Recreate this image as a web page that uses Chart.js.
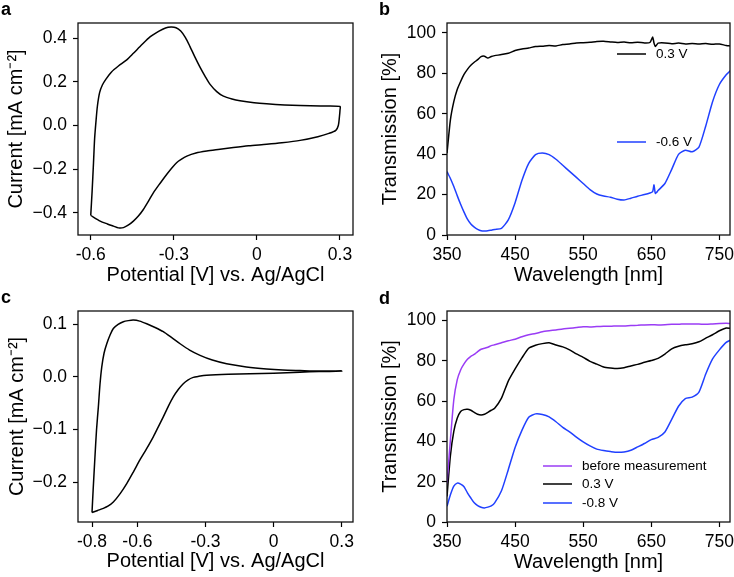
<!DOCTYPE html>
<html><head><meta charset="utf-8">
<script src="https://cdn.jsdelivr.net/npm/chart.js@4.4.0/dist/chart.umd.min.js"></script>
<style>
html,body{margin:0;padding:0;background:#fff;width:734px;height:577px;overflow:hidden}
canvas{position:absolute}
</style></head><body>
<canvas id="ca" style="left:0;top:0" width="367" height="290"></canvas>
<canvas id="cb" style="left:367px;top:0" width="367" height="290"></canvas>
<canvas id="cc" style="left:0;top:290px" width="367" height="287"></canvas>
<canvas id="cd" style="left:367px;top:290px" width="367" height="287"></canvas>
<script>
// ---------- data ----------
const cvA_potential = [-0.600,-0.595,-0.590,-0.586,-0.581,-0.576,-0.568,-0.558,-0.545,-0.525,-0.500,-0.470,-0.446,-0.415,-0.386,-0.355,-0.330,-0.310,-0.292,-0.275,-0.258,-0.242,-0.225,-0.206,-0.187,-0.169,-0.145,-0.121,-0.090,-0.061,-0.010,0.035,0.100,0.156,0.230,0.300,
  0.300,0.298,0.294,0.285,0.260,0.220,0.156,0.090,0.035,-0.030,-0.085,-0.140,-0.181,-0.220,-0.253,-0.275,-0.290,-0.308,-0.326,-0.350,-0.374,-0.392,-0.410,-0.428,-0.446,-0.465,-0.482,-0.500,-0.518,-0.540,-0.566,-0.600];
const cvA_current = [-0.411,-0.300,-0.170,-0.060,0.020,0.088,0.150,0.185,0.212,0.245,0.272,0.300,0.330,0.370,0.405,0.430,0.446,0.450,0.447,0.432,0.402,0.362,0.316,0.268,0.225,0.188,0.155,0.134,0.121,0.113,0.104,0.099,0.094,0.091,0.089,0.087,
  0.070,0.040,0.000,-0.022,-0.036,-0.051,-0.068,-0.079,-0.086,-0.093,-0.101,-0.110,-0.117,-0.126,-0.140,-0.156,-0.170,-0.195,-0.224,-0.265,-0.308,-0.347,-0.384,-0.414,-0.437,-0.456,-0.467,-0.468,-0.460,-0.450,-0.437,-0.411];

const cvC_potential = [-0.800,-0.795,-0.787,-0.780,-0.772,-0.765,-0.757,-0.747,-0.735,-0.720,-0.706,-0.685,-0.662,-0.640,-0.618,-0.590,-0.559,-0.522,-0.486,-0.450,-0.412,-0.370,-0.324,-0.270,-0.207,-0.120,-0.031,0.040,0.116,0.200,0.300,
  0.200,0.116,0.000,-0.104,-0.200,-0.295,-0.330,-0.354,-0.378,-0.398,-0.420,-0.442,-0.464,-0.486,-0.508,-0.530,-0.560,-0.589,-0.618,-0.647,-0.676,-0.706,-0.730,-0.750,-0.775,-0.800];
const cvC_current = [-0.258,-0.215,-0.152,-0.100,-0.057,-0.015,0.019,0.045,0.063,0.080,0.092,0.100,0.105,0.107,0.108,0.106,0.101,0.094,0.086,0.075,0.063,0.051,0.041,0.032,0.025,0.019,0.015,0.013,0.012,0.011,0.011,
  0.010,0.009,0.007,0.006,0.005,0.003,0.001,-0.001,-0.006,-0.013,-0.024,-0.038,-0.056,-0.076,-0.095,-0.114,-0.137,-0.158,-0.181,-0.203,-0.222,-0.238,-0.246,-0.250,-0.254,-0.258];

const specB_wavelength = [350,355,360,365,370,375,380,385,390,395,400,405,410,415,420,430,440,450,460,470,480,490,500,510,520,530,540,550,560,570,580,590,600,610,620,630,640,648,652,654,656,660,670,680,690,700,710,720,730,740,750,760,766];
const specB_T_0p3V = [40.5,57,66,72,76,79.5,82,84,85.5,86.8,88.3,88.5,87.6,88.4,88.8,89.3,90.0,91.3,92.1,92.6,93.3,93.5,93.8,93.6,94.3,94.6,95.1,95.2,95.4,95.8,95.9,95.6,95.3,95.5,95.2,95.4,95.1,95.3,98.0,95.0,93.3,95.0,95.1,94.7,95.0,94.6,94.8,94.6,94.8,94.4,94.6,93.8,93.6];
const specB_T_m0p6V = [31.4,28,24,19.5,15.2,11.3,7.8,5.4,3.9,2.8,2.1,2.0,2.1,2.4,2.7,3.3,7.5,16,27,35.5,39.8,40.6,39.8,37.5,34.5,31.5,28.5,25.5,22.5,20.3,19.3,18.7,17.7,17.3,18.2,19.2,20.0,20.8,21.5,24.8,20.6,22.0,25.5,32.5,39.9,42.0,41.2,43.5,54,66,74.5,79.3,81.3];

const specD_wavelength = [350,355,360,365,370,375,380,385,390,395,400,405,410,415,420,430,440,450,460,470,480,490,500,510,520,530,540,550,560,570,580,590,600,610,620,630,640,650,660,670,680,690,700,710,720,730,740,750,760,766];
const specD_T_before = [19.3,40.8,60.7,70.6,75.5,78.5,80.8,82.3,83.2,84.6,85.8,86.3,86.8,87.6,88.0,89.0,90.0,90.8,92.0,93.0,93.6,94.5,95.0,95.4,95.9,96.2,96.6,97.0,96.9,97.1,97.2,97.2,97.4,97.4,97.6,97.7,97.9,98.0,97.9,98.0,98.2,98.2,98.4,98.3,98.3,98.2,98.4,98.6,98.7,98.6];
const specD_T_0p3V = [12.7,33,45,51.5,54.9,55.8,56,55.5,54.5,53.5,53.2,53.5,54.5,55.5,56.5,61.5,70,76,81.5,86.3,87.8,88.6,89.0,87.9,87.0,85.5,83.5,81.8,79.8,78.4,77.0,76.5,76.2,76.6,77.5,78.3,79.3,80.2,81.3,83.4,86,87.3,88,88.5,89.5,91.3,93,95,96.4,96.2];
const specD_T_m0p8V = [7.8,13.5,17.8,19.3,18.8,17.5,14.5,11.9,9.5,8.1,7.3,7.0,7.4,8.0,9.5,15.5,26,37,45.5,52,53.7,53.4,52.2,49.8,47,44.8,42.2,39.8,37.8,36.2,35.5,35.0,34.6,34.8,35.6,37.3,39,40.9,42,44.7,51,57.5,61.3,62,64.5,73.5,81,85.5,89.2,90.3];

const ticksA_x = [-0.6,-0.3,0,0.3];
const ticksA_y = [-0.4,-0.2,0,0.2,0.4];
const ticksC_x = [-0.8,-0.6,-0.3,0,0.3];
const ticksC_y = [-0.2,-0.1,0,0.1];
const ticksSpec_x = [350,450,550,650,750];
const ticksSpec_y = [0,20,40,60,80,100];

const labelsB = ['0.3 V','-0.6 V'];
const labelsD = ['before measurement','0.3 V','-0.8 V'];

// ---------- helpers ----------
const BLACK='#000000', BLUE='#2040ff', PURPLE='#9a3cf5';
const TICK_SIZE = 17.5;
Chart.defaults.font.family = '"Liberation Sans", Arial, Helvetica, sans-serif';
Chart.defaults.color = '#000';

function pts(xs, ys){ return xs.map((x,i)=>({x:x, y:ys[i]})); }

const fmtDash = v => v===0 ? '0' : (Math.round(v*10)/10).toFixed(1);
const fmtMinus1 = v => { const r=Math.round(v*10)/10; return r===0 ? '0.0' : (r<0?'\u2212':'') + Math.abs(r).toFixed(1); };
const fmtInt = v => String(Math.round(v));

const framePlugin = {
  id:'frame',
  afterDatasetsDraw(chart){
    const {ctx, chartArea:a} = chart;
    ctx.save();
    ctx.strokeStyle='#111'; ctx.lineWidth=1.3;
    ctx.strokeRect(a.left, a.top, a.right-a.left, a.bottom-a.top);
    ctx.restore();
  }
};
const letterPlugin = {
  id:'letter',
  afterDraw(chart, args, o){
    if(!o || !o.text) return;
    const ctx = chart.ctx;
    ctx.save();
    ctx.font = 'bold 18px "Liberation Sans", Arial, sans-serif';
    ctx.fillStyle='#000'; ctx.textBaseline='alphabetic'; ctx.textAlign='left';
    ctx.fillText(o.text, o.x, o.y);
    ctx.restore();
  }
};
const inlineLegend = {
  id:'inlineLegend',
  afterDatasetsDraw(chart, args, o){
    if(!o || !o.items) return;
    const {ctx, chartArea:a} = chart;
    ctx.save();
    ctx.font = '13.5px "Liberation Sans", Arial, sans-serif';
    ctx.textBaseline='middle'; ctx.textAlign='left';
    o.items.forEach(it=>{
      const ds = chart.data.datasets[it.ds];
      const x0 = a.left + it.x, y0 = a.top + it.y;
      ctx.strokeStyle = ds.borderColor; ctx.lineWidth = 1.5;
      ctx.beginPath(); ctx.moveTo(x0, y0); ctx.lineTo(x0+29, y0); ctx.stroke();
      ctx.fillStyle = '#000';
      ctx.fillText(ds.label, x0+39, y0+0.5);
    });
    ctx.restore();
  }
};

function xAxis(min,max,ticks,fmt,title,h,tpad){
  return {type:'linear', min, max,
    afterBuildTicks: s=>{ s.ticks = ticks.map(v=>({value:v})); },
    afterFit: s=>{ s.height=h; s.paddingLeft=0; s.paddingRight=0; },
    grid:{display:true, drawOnChartArea:false, drawTicks:true, tickLength:5, tickColor:'#000', tickWidth:1.2},
    border:{display:false},
    ticks:{font:{size:TICK_SIZE}, color:'#000', padding:5, maxRotation:0, autoSkip:false, callback:fmt},
    title:{display:true, text:title, font:{size:20}, color:'#000', padding:{top:0,bottom:tpad}}
  };
}
function yAxis(min,max,ticks,fmt,title,w,tpad){
  return {type:'linear', min, max,
    afterBuildTicks: s=>{ s.ticks = ticks.map(v=>({value:v})); },
    afterFit: s=>{ s.width=w; s.paddingTop=0; s.paddingBottom=0; },
    grid:{display:true, drawOnChartArea:false, drawTicks:true, tickLength:5, tickColor:'#000', tickWidth:1.2},
    border:{display:false},
    ticks:{font:{size:TICK_SIZE}, color:'#000', padding:6, autoSkip:false, callback:fmt},
    title:{display:true, text:title, font:{size:20}, color:'#000', padding:{top:tpad,bottom:0}}
  };
}
function line(label, xs, ys, color, tension){
  return {label, data:pts(xs,ys), borderColor:color, backgroundColor:color, borderWidth:1.5,
    showLine:true, pointRadius:0, pointHoverRadius:0, tension:tension, fill:false};
}
function make(id, datasets, scales, padding, plugOpts){
  return new Chart(document.getElementById(id), {
    type:'scatter',
    data:{datasets},
    options:{responsive:false, animation:false, devicePixelRatio:1,
      layout:{padding},
      scales,
      plugins:Object.assign({legend:{display:false}, tooltip:{enabled:false}}, plugOpts)
    },
    plugins:[framePlugin, letterPlugin, inlineLegend]
  });
}

// ---------- panel a ----------
make('ca',
  [line('CV', cvA_potential, cvA_current, BLACK, 0.25)],
  { x:xAxis(-0.646,0.347,ticksA_x,fmtDash,'Potential [V] vs. Ag/AgCl',55,2.5),
    y:yAxis(-0.5006,0.4686,ticksA_y,fmtMinus1,'Current [mA cm\u207B\u00B2]',78,4.5) },
  {left:0,right:14,top:23,bottom:0},
  {letter:{text:'a',x:1,y:15}});

// ---------- panel b ----------
make('cb',
  [line(labelsB[0], specB_wavelength, specB_T_0p3V, BLACK, 0.2),
   line(labelsB[1], specB_wavelength, specB_T_m0p6V, BLUE, 0.2)],
  { x:xAxis(350,765.6,ticksSpec_x,fmtInt,'Wavelength [nm]',55,2.5),
    y:yAxis(0,104.95,ticksSpec_y,fmtInt,'Transmission [%]',80,11.5) },
  {left:0,right:4,top:23,bottom:0},
  {letter:{text:'b',x:12,y:15},
   inlineLegend:{items:[{ds:0,x:170,y:31},{ds:1,x:170,y:119}]}});

// ---------- panel c ----------
make('cc',
  [line('CV', cvC_potential, cvC_current, BLACK, 0.25)],
  { x:xAxis(-0.8617,0.3497,ticksC_x,fmtDash,'Potential [V] vs. Ag/AgCl',55,4),
    y:yAxis(-0.276,0.1253,ticksC_y,fmtMinus1,'Current [mA cm\u207B\u00B2]',78,5) },
  {left:0,right:14,top:21,bottom:0},
  {letter:{text:'c',x:1,y:13}});

// ---------- panel d ----------
make('cd',
  [line(labelsD[0], specD_wavelength, specD_T_before, PURPLE, 0.2),
   line(labelsD[1], specD_wavelength, specD_T_0p3V, BLACK, 0.2),
   line(labelsD[2], specD_wavelength, specD_T_m0p8V, BLUE, 0.2)],
  { x:xAxis(350,765.6,ticksSpec_x,fmtInt,'Wavelength [nm]',55,3),
    y:yAxis(0,104.8,ticksSpec_y,fmtInt,'Transmission [%]',80,11.5) },
  {left:0,right:4,top:21,bottom:0},
  {letter:{text:'d',x:12,y:14},
   inlineLegend:{items:[{ds:0,x:96,y:155},{ds:1,x:96,y:173},{ds:2,x:96,y:192}]}});
</script>
</body></html>
